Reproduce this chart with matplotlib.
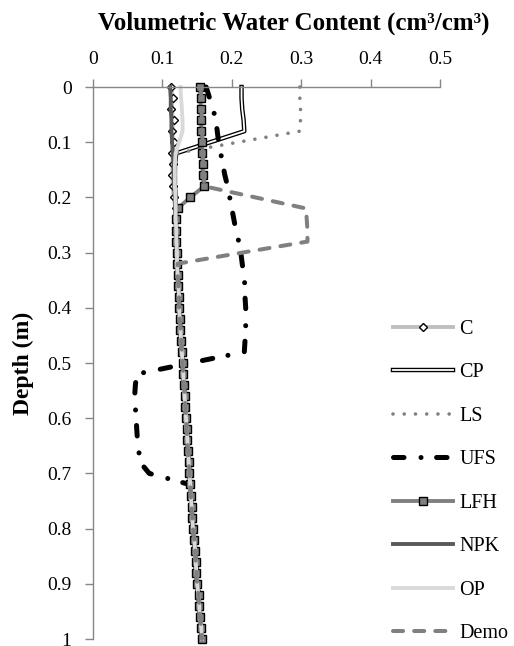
import numpy as np
import matplotlib.pyplot as plt

plt.rcParams['font.family'] = ['Liberation Serif', 'DejaVu Serif']

# Tiefe in m (Messraster 0.02 m)
depth = [0.00, 0.02, 0.04, 0.06, 0.08, 0.10, 0.12, 0.14, 0.16, 0.18,
         0.20, 0.22, 0.24, 0.26, 0.28, 0.30, 0.32, 0.34, 0.36, 0.38,
         0.40, 0.42, 0.44, 0.46, 0.48, 0.50, 0.52, 0.54, 0.56, 0.58,
         0.60, 0.62, 0.64, 0.66, 0.68, 0.70, 0.72, 0.74, 0.76, 0.78,
         0.80, 0.82, 0.84, 0.86, 0.88, 0.90, 0.92, 0.94, 0.96, 0.98, 1.00]

# ab 0.22 m laufen fast alle Varianten zusammen (Werte 0.22 ... 1.00 m)
base = [0.119, 0.119, 0.120, 0.120, 0.121, 0.121, 0.122, 0.123, 0.124, 0.124,
        0.125, 0.126, 0.127, 0.128, 0.129, 0.130, 0.131, 0.132, 0.133, 0.134,
        0.135, 0.136, 0.137, 0.138, 0.139, 0.140, 0.141, 0.142, 0.143, 0.144,
        0.146, 0.147, 0.148, 0.149, 0.150, 0.152, 0.153, 0.154, 0.156, 0.157]

C = [0.112, 0.115, 0.113, 0.116, 0.114, 0.116, 0.114, 0.115, 0.114, 0.115, 0.116] + base
CP = [0.214, 0.214, 0.215, 0.217, 0.218, 0.169, 0.120, 0.118, 0.118, 0.118, 0.119] + base
LS = [0.298, 0.298, 0.299, 0.299, 0.298, 0.209, 0.120, 0.118, 0.118, 0.118, 0.119] + base
UFS = [0.163, 0.168, 0.173, 0.177, 0.179, 0.181, 0.184, 0.187, 0.190, 0.194,
       0.197, 0.200, 0.203, 0.206, 0.210, 0.213, 0.215, 0.217, 0.219, 0.219,
       0.220, 0.220, 0.220, 0.219, 0.218, 0.140, 0.063, 0.061, 0.060, 0.061,
       0.062, 0.063, 0.064, 0.066, 0.068, 0.081, 0.139] + base[26:]
LFH = [0.154, 0.155, 0.155, 0.156, 0.156, 0.157, 0.157, 0.158, 0.158, 0.160, 0.140, 0.122] + base[1:]
NPK = [0.111, 0.112, 0.112, 0.113, 0.113, 0.114, 0.115, 0.116, 0.116, 0.117, 0.118] + base
OP = [0.126, 0.127, 0.128, 0.129, 0.129, 0.124, 0.119, 0.118, 0.118, 0.118, 0.119] + base
Demo = [0.155, 0.156, 0.156, 0.157, 0.157, 0.158, 0.158, 0.159, 0.159, 0.161,
        0.234, 0.307, 0.308, 0.309, 0.309, 0.215, 0.122] + base[6:]

xticks = [0, 0.1, 0.2, 0.3, 0.4, 0.5]
xlabels = ['0', '0.1', '0.2', '0.3', '0.4', '0.5']
yticks = [0, 0.1, 0.2, 0.3, 0.4, 0.5, 0.6, 0.7, 0.8, 0.9, 1.0]
ylabels = ['0', '0.1', '0.2', '0.3', '0.4', '0.5', '0.6', '0.7', '0.8', '0.9', '1']

fig = plt.figure(figsize=(5.14, 6.46), dpi=100)
ax = fig.add_axes([0.181, 0.0108, 0.675, 0.8545])

h_c, = ax.plot(C, depth, color='#BFBFBF', lw=2.8, marker='D', ms=4.5,
               mfc='white', mec='black', mew=1.0, clip_on=False)
h_cp1, = ax.plot(CP, depth, color='black', lw=3.2, clip_on=False)
h_cp2, = ax.plot(CP, depth, color='white', lw=1.3, clip_on=False)
h_ls, = ax.plot(LS, depth, color='#808080', lw=2.6, linestyle=(0, (0.01, 3.1)),
                dash_capstyle='round', clip_on=False)
h_ufs, = ax.plot(UFS, depth, color='black', lw=3.6, linestyle=(0, (2.1, 3.4, 0.01, 3.1)),
                 dash_capstyle='round', clip_on=False)
h_lfh, = ax.plot(LFH, depth, color='#808080', lw=2.8, marker='s', ms=6,
                 mfc='#808080', mec='black', mew=1.0, clip_on=False)
h_npk, = ax.plot(NPK, depth, color='#595959', lw=2.8, clip_on=False)
h_op, = ax.plot(OP, depth, color='#D9D9D9', lw=2.8, clip_on=False)
h_demo, = ax.plot(Demo, depth, color='#808080', lw=2.9, linestyle=(0, (2.5, 2.75)),
                  dash_capstyle='round', clip_on=False)

ax.set_xlim(0, 0.5)
ax.set_ylim(1, 0)
ax.xaxis.tick_top()
ax.set_xticks(xticks)
ax.set_xticklabels(xlabels)
ax.set_yticks(yticks)
ax.set_yticklabels(ylabels)
ax.tick_params(axis='both', labelsize=14, color='#868686', length=5.5, width=1.0)
ax.tick_params(axis='x', pad=8)
ax.tick_params(axis='y', pad=10)

for s in ['right', 'bottom']:
    ax.spines[s].set_visible(False)
for s in ['top', 'left']:
    ax.spines[s].set_color('#868686')
    ax.spines[s].set_linewidth(1.0)

fig.text(0.572, 0.964, 'Volumetric Water Content (cm³/cm³)', ha='center', va='center',
         fontsize=18, fontweight='bold')
fig.text(0.046, 0.437, 'Depth (m)', ha='center', va='center', rotation=90,
         fontsize=17, fontweight='bold')

handles = [h_c, (h_cp1, h_cp2), h_ls, h_ufs, h_lfh, h_npk, h_op, h_demo]
labels = ['C', 'CP', 'LS', 'UFS', 'LFH', 'NPK', 'OP', 'Demo']
ax.legend(handles, labels, loc='center left', bbox_to_anchor=(0.7646, 0.2545),
          bbox_transform=fig.transFigure, frameon=False, fontsize=14.5,
          handlelength=3.0, handletextpad=0.3, labelspacing=1.21,
          borderpad=0, borderaxespad=0)

plt.savefig('out.png', dpi=100)
